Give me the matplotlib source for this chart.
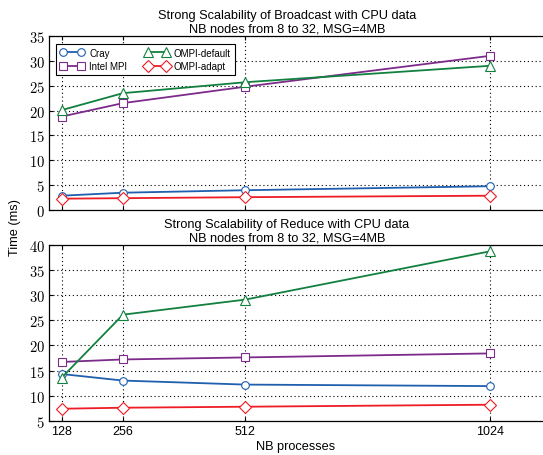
import matplotlib
matplotlib.use("Agg")
import matplotlib.pyplot as plt
from matplotlib.ticker import FuncFormatter

plt.rcParams["font.family"] = "Liberation Sans"
plt.rcParams["mathtext.fontset"] = "cm"

nb_procs = [128, 256, 512, 1024]
series = ["Cray", "Intel MPI", "OMPI-default", "OMPI-adapt"]

# Broadcast times (ms)
bcast_cray = [2.9, 3.5, 4.0, 4.8]
bcast_intel = [18.8, 21.5, 24.8, 31.0]
bcast_default = [20.1, 23.5, 25.7, 29.0]
bcast_adapt = [2.3, 2.4, 2.6, 2.9]

# Reduce times (ms)
red_cray = [14.3, 13.0, 12.2, 11.9]
red_intel = [16.7, 17.2, 17.6, 18.4]
red_default = [13.6, 26.1, 29.1, 38.7]
red_adapt = [7.4, 7.6, 7.8, 8.2]

colors = ["#1f5fae", "#7d2b8b", "#12803f", "#ee1c25"]
markers = ["o", "s", "^", "D"]
msizes = [5.5, 6, 6.5, 6]

fig = plt.figure(figsize=(5.43, 4.56), dpi=100)
ax1 = fig.add_axes([0.090, 0.537, 0.91, 0.382])
ax2 = fig.add_axes([0.090, 0.075, 0.91, 0.386])


def style(ax, ylim, yticks):
    ax.set_xlim(101, 1135)
    ax.set_ylim(*ylim)
    ax.set_yticks(yticks)
    ax.set_xticks(nb_procs)
    ax.grid(True, linestyle=(0, (1, 2.5)), color="black", linewidth=0.8)
    ax.tick_params(direction="in", top=True, length=3, width=0.8, pad=3)
    ax.tick_params(axis="y", labelsize=10.5)
    ax.tick_params(axis="x", labelsize=9)
    ax.yaxis.set_major_formatter(FuncFormatter(lambda v, p: r"$%d$" % v))
    ax.spines["right"].set_visible(False)
    for s in ["left", "top", "bottom"]:
        ax.spines[s].set_linewidth(0.9)


def draw(ax, data):
    for vals, name, c, m, ms in zip(data, series, colors, markers, msizes):
        ax.plot(nb_procs, vals, color=c, marker=m, markersize=ms,
                markerfacecolor="white", markeredgecolor=c,
                markeredgewidth=0.8, linewidth=1.3, label=name)


draw(ax1, [bcast_cray, bcast_intel, bcast_default, bcast_adapt])
style(ax1, (0, 35), range(0, 36, 5))
ax1.tick_params(labelbottom=False)
ax1.set_title("Strong Scalability of Broadcast with CPU data\n"
              "NB nodes from 8 to 32, MSG=4MB", fontsize=9.2, pad=3,
              linespacing=1.15, x=0.482)
leg = ax1.legend(loc="upper left", ncol=2, numpoints=2, fontsize=7,
                 fancybox=False, edgecolor="black", framealpha=1,
                 handlelength=2.5, columnspacing=1.8, borderpad=0.4,
                 labelspacing=0.35, handletextpad=0.5,
                 bbox_to_anchor=(0.005, 0.982))
leg.get_frame().set_linewidth(0.8)

draw(ax2, [red_cray, red_intel, red_default, red_adapt])
style(ax2, (5, 40), range(5, 41, 5))
ax2.set_title("Strong Scalability of Reduce with CPU data\n"
              "NB nodes from 8 to 32, MSG=4MB", fontsize=9.2, pad=3,
              linespacing=1.15, x=0.482)
ax2.set_xlabel("NB processes", fontsize=9.2, labelpad=2)

fig.text(0.027, 0.5, "Time (ms)", rotation=90, va="center", ha="center",
         fontsize=9.2)

fig.savefig("out.png", dpi=100)
